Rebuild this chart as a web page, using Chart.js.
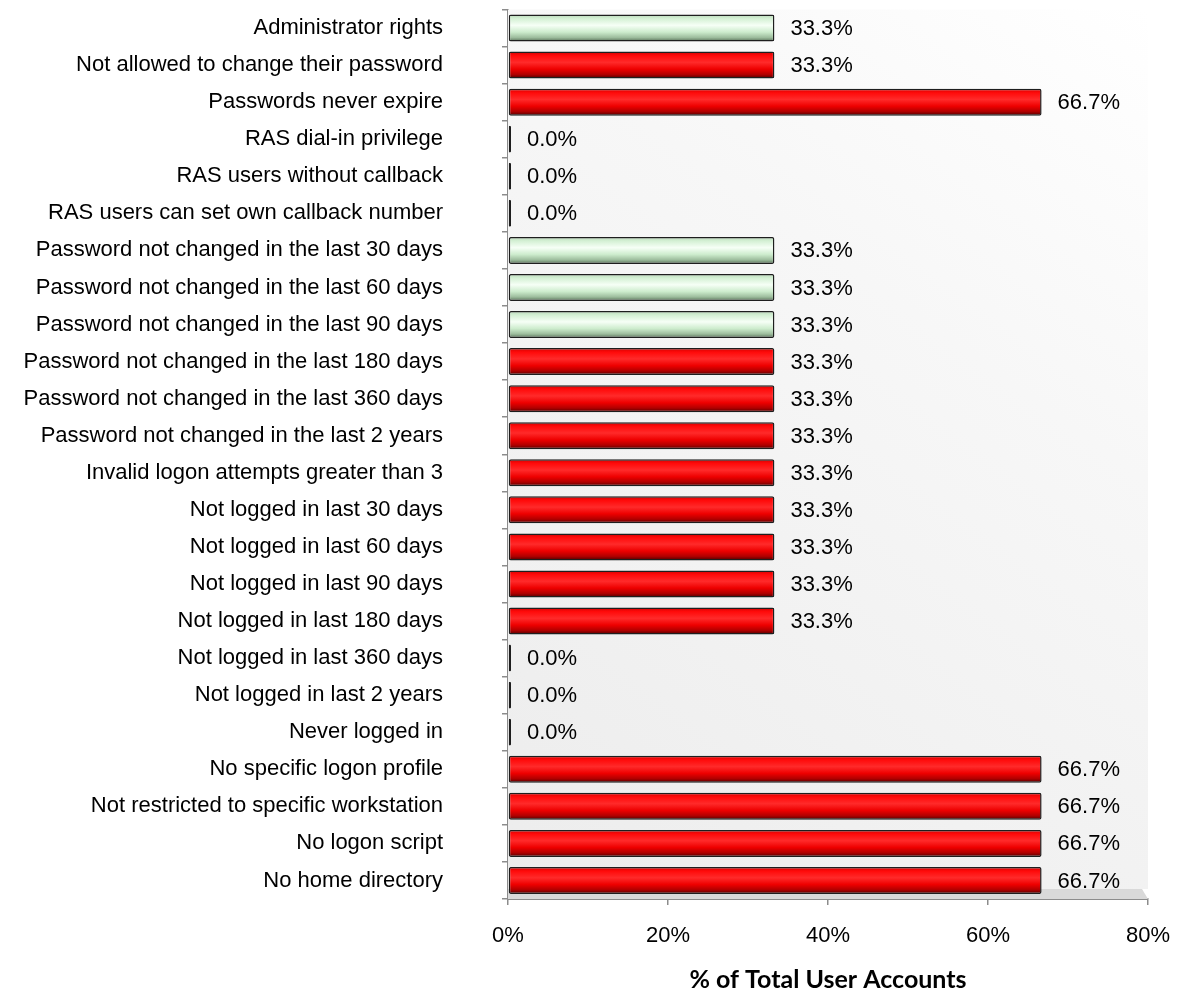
<!DOCTYPE html>
<html>
<head>
<meta charset="utf-8">
<script src="https://cdn.jsdelivr.net/npm/chart.js@4.4.1/dist/chart.umd.min.js"></script>
<style>
  html, body { margin: 0; padding: 0; background: #ffffff; }
  #wrap { width: 1183px; height: 995px; position: relative; }
</style>
</head>
<body>
<div id="wrap"><canvas id="c"></canvas></div>
<script>
const categories = [
  "Administrator rights",
  "Not allowed to change their password",
  "Passwords never expire",
  "RAS dial-in privilege",
  "RAS users without callback",
  "RAS users can set own callback number",
  "Password not changed in the last 30 days",
  "Password not changed in the last 60 days",
  "Password not changed in the last 90 days",
  "Password not changed in the last 180 days",
  "Password not changed in the last 360 days",
  "Password not changed in the last 2 years",
  "Invalid logon attempts greater than 3",
  "Not logged in last 30 days",
  "Not logged in last 60 days",
  "Not logged in last 90 days",
  "Not logged in last 180 days",
  "Not logged in last 360 days",
  "Not logged in last 2 years",
  "Never logged in",
  "No specific logon profile",
  "Not restricted to specific workstation",
  "No logon script",
  "No home directory"
];
const percentValues = [33.3, 33.3, 66.7, 0.0, 0.0, 0.0, 33.3, 33.3, 33.3, 33.3, 33.3, 33.3, 33.3, 33.3, 33.3, 33.3, 33.3, 0.0, 0.0, 0.0, 66.7, 66.7, 66.7, 66.7];
// "ok" = green bar, "risk" = red bar
const severity = ["ok","risk","risk","ok","ok","risk","ok","ok","ok","risk","risk","risk","risk","risk","risk","risk","risk","ok","ok","ok","risk","risk","risk","risk"];
const xTickValues = [0, 20, 40, 60, 80];
const xAxisTitle = "% of Total User Accounts";

const BASE_FONT = "'Liberation Sans', Arial, sans-serif";

function barFill(context) {
  const chart = context.chart;
  const kind = severity[context.dataIndex];
  const ys = chart.scales && chart.scales.y;
  if (!ys || !chart.chartArea) return kind === "ok" ? "#d8f0d8" : "#ff0000";
  const yc = ys.getPixelForValue(context.dataIndex);
  const h = 13.5;
  const g = chart.ctx.createLinearGradient(0, yc - h, 0, yc + h);
  if (kind === "ok") {
    g.addColorStop(0, "#b8d8b8");
    g.addColorStop(0.15, "#d4f0d4");
    g.addColorStop(0.4, "#f6fff6");
    g.addColorStop(0.65, "#cdeccd");
    g.addColorStop(0.85, "#9dbd9d");
    g.addColorStop(1, "#566e56");
  } else {
    g.addColorStop(0, "#d00000");
    g.addColorStop(0.15, "#ff0a0a");
    g.addColorStop(0.4, "#ff2a2a");
    g.addColorStop(0.65, "#ee0000");
    g.addColorStop(0.85, "#b00000");
    g.addColorStop(1, "#4a0000");
  }
  return g;
}

const bgPlugin = {
  id: "bgPlugin",
  beforeDatasetsDraw(chart) {
    const { ctx, chartArea: a } = chart;
    ctx.save();
    const g = ctx.createLinearGradient(a.right, a.top, a.left, a.bottom);
    g.addColorStop(0, "#ffffff");
    g.addColorStop(0.35, "#f7f7f7");
    g.addColorStop(1, "#ececec");
    ctx.fillStyle = g;
    ctx.fillRect(a.left, a.top, a.right - a.left, a.bottom - a.top - 10);
    // floor band
    ctx.fillStyle = "#d9d9d9";
    ctx.beginPath();
    ctx.moveTo(a.left, a.bottom - 10);
    ctx.lineTo(a.right - 6, a.bottom - 10);
    ctx.lineTo(a.right, a.bottom);
    ctx.lineTo(a.left, a.bottom);
    ctx.closePath();
    ctx.fill();
    ctx.restore();
  }
};

const labelPlugin = {
  id: "labelPlugin",
  afterDatasetsDraw(chart) {
    const { ctx } = chart;
    const meta = chart.getDatasetMeta(0);
    ctx.save();
    ctx.font = "22px " + BASE_FONT;
    ctx.fillStyle = "#000000";
    ctx.textAlign = "left";
    ctx.textBaseline = "middle";
    meta.data.forEach((el, i) => {
      ctx.fillText(percentValues[i].toFixed(1) + "%", el.x + 16, el.y + 1);
    });
    ctx.restore();
  }
};

new Chart(document.getElementById("c"), {
  type: "bar",
  data: {
    labels: categories,
    datasets: [{
      data: percentValues,
      backgroundColor: barFill,
      borderColor: "#1e1e1e",
      borderWidth: 1.5,
      borderSkipped: false,
      borderRadius: 2,
      categoryPercentage: 1.0,
      barPercentage: 0.73,
      minBarLength: 3
    }]
  },
  options: {
    indexAxis: "y",
    responsive: true,
    maintainAspectRatio: false,
    animation: false,
    layout: { padding: { top: 9.5, right: 35, bottom: 0, left: 0 } },
    plugins: {
      legend: { display: false },
      tooltip: { enabled: false }
    },
    scales: {
      y: {
        type: "category",
        grid: {
          display: true,
          drawOnChartArea: false,
          drawTicks: true,
          tickLength: 6,
          offset: true,
          color: "#8c8c8c",
          lineWidth: 1.5
        },
        border: { display: true, color: "#8c8c8c", width: 2 },
        ticks: {
          color: "#000000",
          font: { family: BASE_FONT, size: 22 },
          padding: 59,
          autoSkip: false
        },
        afterFit(scale) {
          scale.width = 508;
          scale.paddingTop = 0;
          scale.paddingBottom = 0;
        }
      },
      x: {
        type: "linear",
        min: 0,
        max: 80,
        afterBuildTicks(scale) { scale.ticks = xTickValues.map(v => ({ value: v })); },
        grid: {
          display: true,
          drawOnChartArea: false,
          drawTicks: true,
          tickLength: 6,
          color: "#8c8c8c",
          lineWidth: 1.5
        },
        border: { display: true, color: "#8c8c8c", width: 2 },
        ticks: {
          color: "#000000",
          font: { family: BASE_FONT, size: 22 },
          padding: 18,
          maxRotation: 0,
          callback: v => v + "%"
        },
        title: {
          display: true,
          text: xAxisTitle,
          color: "#000000",
          font: { family: "Lato, 'Open Sans', sans-serif", size: 25, weight: "bold" },
          padding: { top: 0, bottom: 0 }
        },
        afterFit(scale) {
          scale.height = 96;
          scale.paddingLeft = 0;
          scale.paddingRight = 0;
        }
      }
    }
  },
  plugins: [bgPlugin, labelPlugin]
});
</script>
</body>
</html>
